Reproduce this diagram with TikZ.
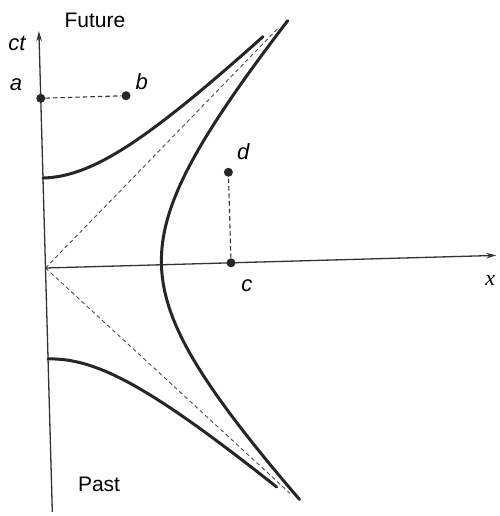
\documentclass[tikz,border=0pt]{standalone}
\usepackage{fontspec}
\setmainfont{Liberation Sans}
\newfontfamily\xfont{Liberation Serif}
\usepackage{tikz}
\usetikzlibrary{arrows.meta}

\begin{document}
\begin{tikzpicture}[x=1pt,y=1pt]

\tikzset{
  axis/.style  = {line width=1.3pt, draw=black!80,
                  -{Stealth[length=10pt,width=5.5pt]}},
  hyp/.style   = {line width=3pt, draw=black!85, line cap=round},
  guide/.style = {line width=0.9pt, draw=black!70, dash pattern=on 4pt off 3pt},
  drop/.style  = {line width=1.1pt, draw=black!80, dash pattern=on 4.5pt off 3pt},
  dot/.style   = {circle, fill=black!85, inner sep=0pt, minimum size=9pt},
  lbl/.style   = {font=\fontsize{22}{24}\selectfont\itshape, inner sep=0pt},
  tag/.style   = {font=\fontsize{21}{23}\selectfont, inner sep=0pt},
}

\useasboundingbox (-45.5,-248) rectangle (453.5,268);

\begin{scope}[rotate=1.6]
\coordinate (o) at (0,0);
\coordinate (ctbot) at (0,-244);
\coordinate (cttop) at (0,237);
\coordinate (xend) at (451,0);
\coordinate (up) at (240,234);
\coordinate (dn) at (238,-232);

% light cone
\draw[guide] (o) -- (up);
\draw[guide] (o) -- (dn);

% axes
\draw[axis] (ctbot) -- (cttop);
\draw[axis] (o) -- (xend);

% hyperbolae (worked in hundreds to keep numbers small)
\draw[hyp] plot[domain=0:2.24, samples=60, smooth]
  ({100*\x},{100*sqrt(0.81+0.85*\x*\x)});
\draw[hyp] plot[domain=0:2.25, samples=60, smooth]
  ({100*\x},{-100*sqrt(0.8281+0.84*\x*\x)});
\draw[hyp] plot[domain=-2.385:2.405, samples=90, smooth]
  ({100*sqrt(1.3456+0.84*\x*\x)},{100*\x});

% events
\node[dot] (a) at (0,169.8) {};
\node[dot] (b) at (85.3,170) {};
\node[dot] (c) at (185.6,0) {};
\node[dot] (d) at (185.5,90.6) {};
\draw[drop] (a) -- (b);
\draw[drop] (c) -- (d);

\node[lbl] (la) at (-24.4,183.8) {a};
\node[lbl] (lb) at (101.4,183.6) {b};
\node[lbl] (lc) at (200.7,-23.6) {c};
\node[lbl] (ld) at (200.8,110.8) {d};
\node[lbl] (lct) at (-22.2,224.8) {ct};
\node[lbl] (lx) at (444.2,-24.4) {\xfont\itshape x};
\node[tag] (fut) at (56.4,246.6) {Future};
\node[tag] (past) at (47.5,-217.5) {Past};
\end{scope}
\end{tikzpicture}
\end{document}
